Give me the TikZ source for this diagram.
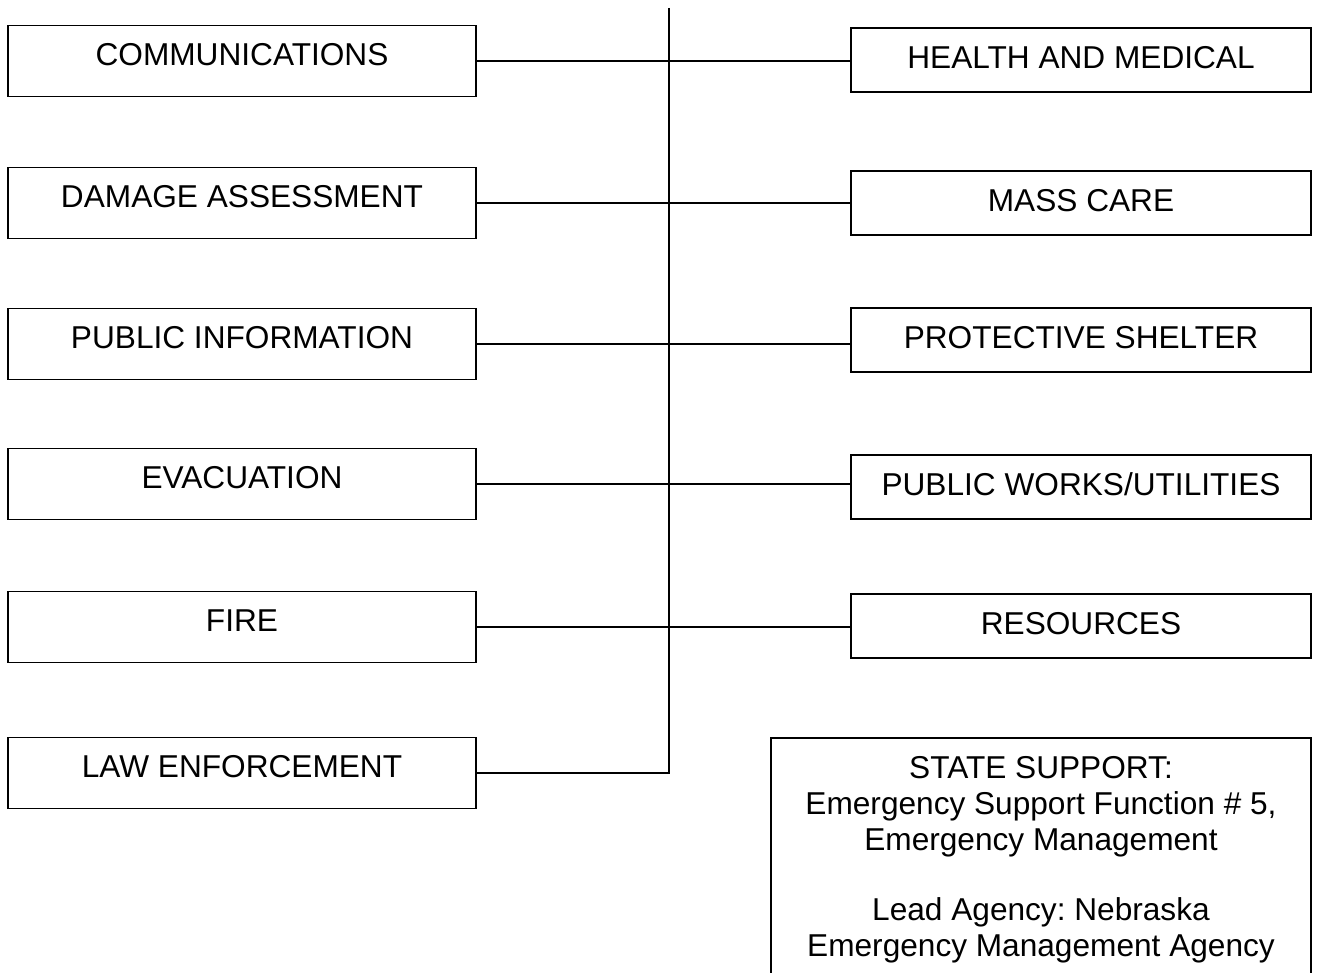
\documentclass[tikz,border=0pt]{standalone}
\usepackage{fontspec}
\setmainfont{Liberation Sans}
\usepackage{tikz}
\usetikzlibrary{positioning,calc}
\frenchspacing

\begin{document}
\begin{tikzpicture}[x=0.02cm,y=-0.02cm,
			every node/.style={font=\fontsize{18}{20.5}\selectfont},
			lbox/.style={draw, line width=1pt, minimum width=9.36cm, minimum height=1.42cm, inner sep=0pt, text depth=0.26cm},
			rbox/.style={draw, line width=1pt, minimum width=9.2cm, minimum height=1.28cm, inner sep=0pt, text depth=0.1cm},
			statebox/.style={draw, line width=1pt, minimum width=10.8cm, minimum height=4.88cm, inner sep=0pt, align=center},
			link/.style={line width=0.8pt}]
			\useasboundingbox (0,0) rectangle (1319,973);
			\clip (0,0) rectangle (1319,973);
			
			\node[lbox] (comm) at (242,61) {COMMUNICATIONS};
			\node[lbox] (damage) at (242,203) {DAMAGE ASSESSMENT};
			\node[lbox] (pubinfo) at (242,344) {PUBLIC INFORMATION};
			\node[lbox] (evac) at (242,484) {EVACUATION};
			\node[lbox] (fire) at (242,627) {FIRE};
			\node[lbox] (law) at (242,773) {LAW ENFORCEMENT};
			
			\node[rbox] (health) at (1081,60) {HEALTH AND MEDICAL};
			\node[rbox] (masscare) at (1081,203) {MASS CARE};
			\node[rbox] (shelter) at (1081,340) {PROTECTIVE SHELTER};
			\node[rbox] (works) at (1081,487) {PUBLIC WORKS/UTILITIES};
			\node[rbox] (resources) at (1081,626) {RESOURCES};
			
			\node[statebox] (state) at (1041,860) {STATE SUPPORT:\\ Emergency Support Function \# 5,\\ Emergency Management\\[0.68cm] Lead Agency: Nebraska\\ Emergency Management Agency};
			
			\coordinate (spinetop) at (669,8);
			\draw[link] (spinetop) |- (law.east);
			
			\draw[link] (comm.east) -- (health.west |- comm.east);
			\draw[link] (damage.east) -- (masscare.west |- damage.east);
			\draw[link] (pubinfo.east) -- (shelter.west |- pubinfo.east);
			\draw[link] (evac.east) -- (works.west |- evac.east);
			\draw[link] (fire.east) -- (resources.west |- fire.east);
		\end{tikzpicture}
\end{document}
